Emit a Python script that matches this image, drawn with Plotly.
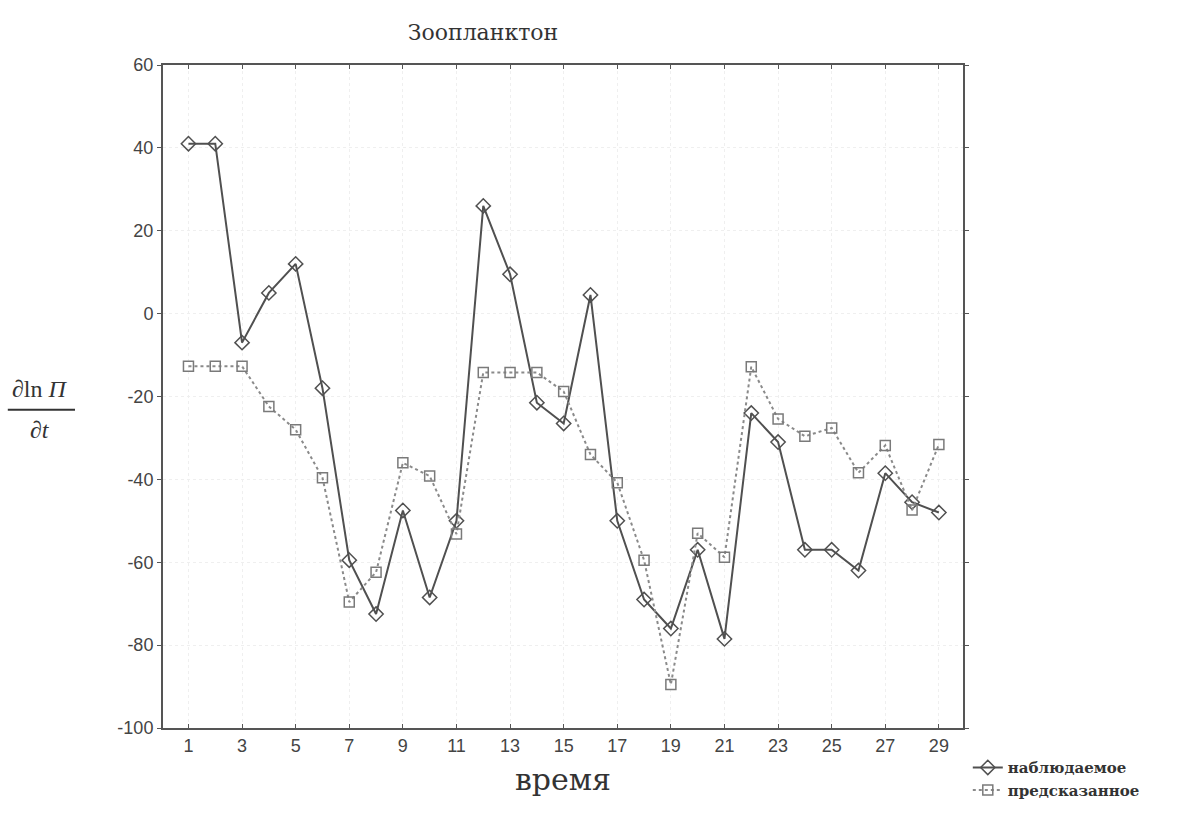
import plotly.graph_objects as go

# time steps
t = list(range(1, 30))

# observed rate (наблюдаемое)
observed = [41, 41, -7, 5, 12, -18, -59.5, -72.5, -47.5, -68.5,
            -50, 26, 9.5, -21.5, -26.5, 4.5, -50, -69, -76, -57,
            -78.5, -24, -31, -57, -57, -62, -38.5, -45.5, -48]

# predicted rate (предсказанное)
predicted = [-12.7, -12.7, -12.7, -22.4, -28, -39.6, -69.6, -62.4, -36, -39.2,
             -53.2, -14.2, -14.2, -14.2, -18.8, -34, -40.8, -59.5, -89.5, -53,
             -58.8, -12.8, -25.4, -29.6, -27.6, -38.4, -31.8, -47.4, -31.6]

y_ticks = [60, 40, 20, 0, -20, -40, -60, -80, -100]
y_tick_labels = ["60", "40", "20", "0", "-20", "-40", "-60", "-80", "-100"]
x_ticks = list(range(1, 30, 2))

ink = "#4a4a4a"
serif = "DejaVu Serif, Liberation Serif, serif"
sans = "Liberation Sans, Arial, sans-serif"

fig = go.Figure()

fig.add_trace(go.Scatter(
    x=t, y=observed, name="наблюдаемое", mode="lines+markers",
    line=dict(color="#505050", width=2),
    marker=dict(symbol="diamond-open", size=11, color="#505050",
                line=dict(width=1.5)),
))
fig.add_trace(go.Scatter(
    x=t, y=predicted, name="предсказанное", mode="lines+markers",
    line=dict(color="#8a8a8a", width=2, dash="dot"),
    marker=dict(symbol="square-open", size=10, color="#7a7a7a",
                line=dict(width=1.5)),
))

fig.update_layout(
    width=1183, height=818,
    paper_bgcolor="white", plot_bgcolor="white",
    margin=dict(l=163, r=220, t=65, b=86),
    title=dict(text="Зоопланктон", x=483 / 1183, xanchor="center",
               y=1 - 32 / 818, yanchor="middle",
               font=dict(family=serif, size=22, color="#333")),
    legend=dict(x=1.006, xanchor="left", y=-0.035, yanchor="top",
                font=dict(family=serif, size=15, color="#333",
                          weight="bold"),
                itemwidth=30, tracegroupgap=0, bgcolor="rgba(0,0,0,0)"),
    font=dict(family=sans, color=ink),
)

fig.update_xaxes(
    range=[0.05, 29.9], tickvals=x_ticks,
    showline=True, linecolor="#555", linewidth=2, mirror="ticks",
    ticks="inside", ticklen=4, tickcolor="#555",
    showgrid=True, gridcolor="#efefef", griddash="dot", gridwidth=1,
    zeroline=False,
    tickfont=dict(family=sans, size=18, color="#444"),
    title=dict(text="время", font=dict(family=serif, size=30, color="#333"),
               standoff=14),
)
fig.update_yaxes(
    range=[-100, 60], tickvals=y_ticks, ticktext=y_tick_labels,
    showline=True, linecolor="#555", linewidth=2, mirror="ticks",
    ticks="outside", ticklen=4, tickcolor="#555",
    showgrid=True, gridcolor="#efefef", griddash="dot", gridwidth=1,
    zeroline=False,
    tickfont=dict(family=sans, size=18, color="#444"),
)

# y-axis label drawn as a fraction: ∂ln Π / ∂t
fig.add_annotation(xref="paper", yref="paper", x=-0.154, y=0.488,
                   text="∂ln <i>Π</i>", showarrow=False,
                   xanchor="center", yanchor="bottom",
                   font=dict(family="Liberation Serif, serif", size=24,
                             color="#333"))
fig.add_shape(type="line", xref="paper", yref="paper",
              x0=-0.194, x1=-0.110, y0=0.48, y1=0.48,
              line=dict(color="#333", width=2))
fig.add_annotation(xref="paper", yref="paper", x=-0.154, y=0.472,
                   text="∂<i>t</i>", showarrow=False,
                   xanchor="center", yanchor="top",
                   font=dict(family="Liberation Serif, serif", size=24,
                             color="#333"))

fig.write_html("out.html")
